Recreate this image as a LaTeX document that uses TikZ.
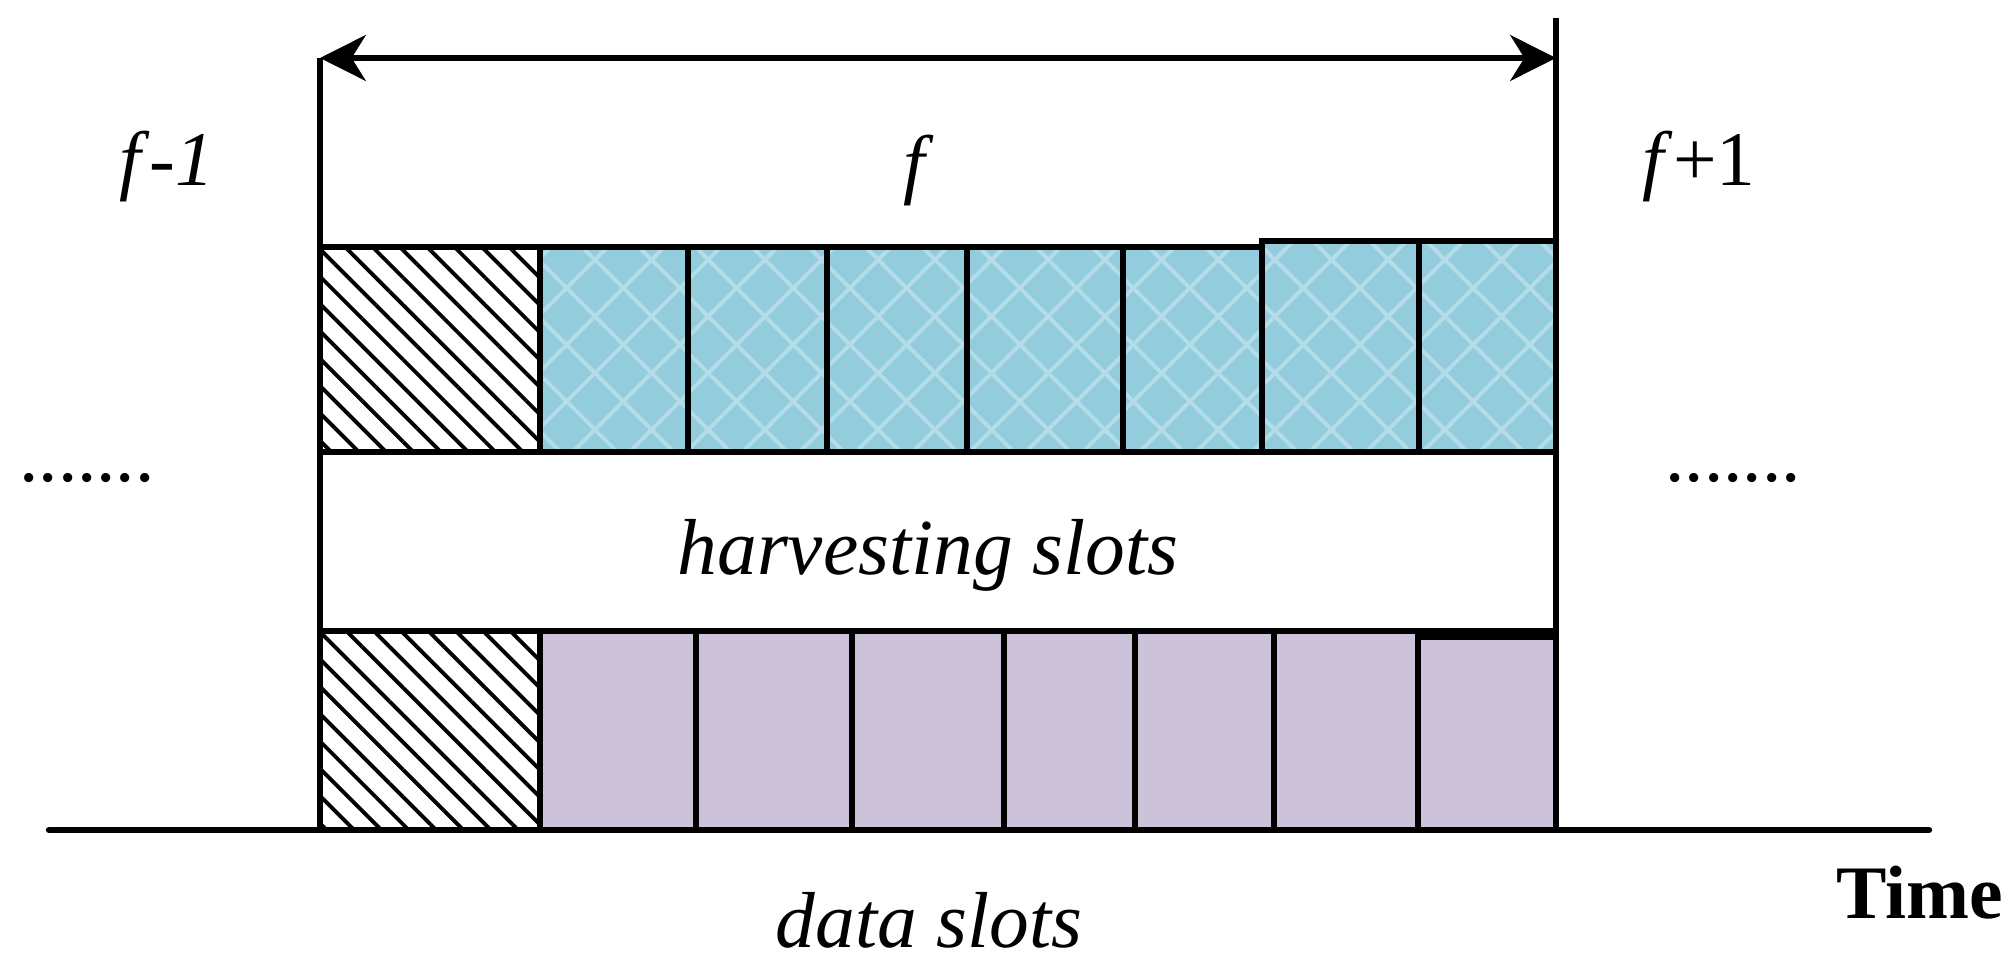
\documentclass[tikz,border=0pt]{standalone}
\usepackage{fontspec}
\setmainfont{Liberation Serif}
\usetikzlibrary{arrows.meta,patterns.meta}
\definecolor{harvcyan}{RGB}{147,205,221}
\definecolor{harvlight}{RGB}{181,221,232}
\definecolor{datalilac}{RGB}{204,195,218}
\begin{document}
\begin{tikzpicture}[line width=1.8pt,
    guard/.style={pattern={Lines[angle=-45,distance=5.5pt,line width=1.1pt]}, pattern color=black},
    harvslot/.style={preaction={fill=harvcyan}, pattern={Hatch[angle=45,distance=11.4pt,line width=1.1pt]}, pattern color=harvlight},
    dataslot/.style={fill=datalilac},
    lbl/.style={font=\fontsize{22}{26}\selectfont, inner sep=0pt}]
    \useasboundingbox (0,0) rectangle (20.15,-9.68);

    % Define the corners of the frame
    \coordinate (arrL) at (3.20,-0.58);
    \coordinate (arrR) at (15.56,-0.58);
    \coordinate (topR) at (15.56,-0.18);
    \coordinate (botL) at (3.20,-8.30);
    \coordinate (botR) at (15.56,-8.30);
    \coordinate (axisL) at (0.49,-8.30);
    \coordinate (axisR) at (19.29,-8.30);

    % Draw the harvesting row
    \draw[guard] (3.20,-2.47) rectangle (5.40,-4.52);
    \draw[harvslot] (5.40,-2.47) rectangle (6.88,-4.52);
    \draw[harvslot] (6.88,-2.47) rectangle (8.27,-4.52);
    \draw[harvslot] (8.27,-2.47) rectangle (9.67,-4.52);
    \draw[harvslot] (9.67,-2.47) rectangle (11.23,-4.52);
    \draw[harvslot] (11.23,-2.47) rectangle (12.62,-4.52);
    \draw[harvslot] (12.62,-2.41) rectangle (14.19,-4.52);
    \draw[harvslot] (14.19,-2.41) rectangle (15.56,-4.52);

    % Draw the data row
    \draw[guard] (3.20,-6.31) rectangle (5.40,-8.30);
    \draw[dataslot] (5.40,-6.31) rectangle (6.96,-8.30);
    \draw[dataslot] (6.96,-6.31) rectangle (8.52,-8.30);
    \draw[dataslot] (8.52,-6.31) rectangle (10.04,-8.30);
    \draw[dataslot] (10.04,-6.31) rectangle (11.35,-8.30);
    \draw[dataslot] (11.35,-6.31) rectangle (12.74,-8.30);
    \draw[dataslot] (12.74,-6.31) rectangle (14.18,-8.30);
    \draw[dataslot] (14.18,-6.37) rectangle (15.56,-8.30);
    \draw (14.18,-6.31) -- (15.56,-6.31);

    % Draw the frame and the time axis
    \draw (arrL) -- (botL);
    \draw (topR) -- (botR);
    \draw[{Stealth[length=13pt,width=13pt,inset=4pt]}-{Stealth[length=13pt,width=13pt,inset=4pt]}] (arrL) -- (arrR);
    \draw[line cap=round] (axisL) -- (axisR);

    % Labels
    \node[lbl] (prev) at (1.67,-1.67) {\textit{f}-\textit{1}};
    \node[lbl] (cur) at (9.19,-1.71) {\textit{f}};
    \node[lbl] (next) at (16.99,-1.67) {\textit{f}+1};
    \node[lbl, anchor=base] (ldots) at (0.87,-4.82) {.......};
    \node[lbl, anchor=base] (rdots) at (17.33,-4.82) {.......};
    \node[lbl, anchor=base, font=\fontsize{22.6}{27}\selectfont\itshape] (harv) at (9.28,-5.75) {harvesting slots};
    \node[lbl, anchor=base, font=\fontsize{22.6}{27}\selectfont\itshape] (data) at (9.29,-9.47) {data slots};
    \node[lbl, anchor=base, font=\fontsize{21.5}{26}\selectfont\bfseries] (time) at (19.20,-9.18) {Time};
\end{tikzpicture}
\end{document}
